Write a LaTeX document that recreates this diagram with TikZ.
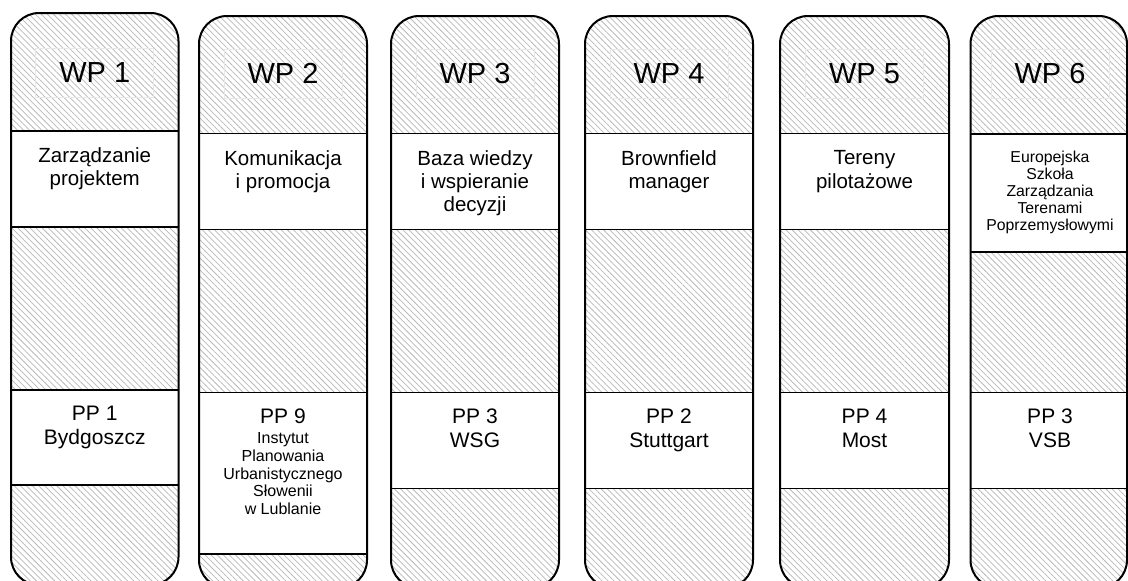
\documentclass[tikz,border=0pt]{standalone}
\usepackage{fontspec}
\setmainfont{Liberation Sans}
\usetikzlibrary{patterns.meta}
\newcommand\wpfnt{\fontsize{29}{34}\selectfont}
\newcommand\bxfnt{\fontsize{20.5}{23.2}\selectfont}
\newcommand\ppfnt{\fontsize{21}{24.5}\selectfont}
\newcommand\smafnt{\fontsize{16}{17.9}\selectfont}
\newcommand\smbfnt{\fontsize{15.8}{17.1}\selectfont}
\begin{document}
\begin{tikzpicture}[x=1pt,y=-1pt,
  hatch/.style={pattern={Lines[angle=-45,distance=4.3pt,line width=0.75pt]},pattern color=black!28},
  outline/.style={draw=black,line width=2pt,rounded corners=28pt},
  whitebox/.style={draw=black,line width=1.8pt,fill=white},
  wplabel/.style={draw=black!9,line width=0.6pt,minimum width=118pt,minimum height=49pt,inner sep=0pt,font=\wpfnt},
  boxtext/.style={anchor=north,inner sep=0pt,align=center,font=\bxfnt},
  pptext/.style={anchor=north,inner sep=0pt,align=center,font=\ppfnt},
  smalla/.style={anchor=north,inner sep=0pt,align=center,font=\smafnt},
  smallb/.style={anchor=north,inner sep=0pt,align=center,font=\smbfnt}]
\useasboundingbox (0,0) rectangle (1128,581);
\clip (0,0) rectangle (1128,581);
% ---------- column 1
\path[hatch,rounded corners=28pt] (11,13) rectangle (178.5,585);
\draw[whitebox] (11,130.7) rectangle (178.5,226.7);
\draw[whitebox] (11,390) rectangle (178.5,485);
\draw[outline] (11,13) rectangle (178.5,585);
\node[wplabel] (wp1) at (94.75,72.5) {WP 1};
\node[boxtext] (t1) at (94.75,147.5) {Zarządzanie\\projektem};
\node[pptext] (p1) at (94.75,405.5) {PP 1\\Bydgoszcz};
% ---------- column 2
\path[hatch,rounded corners=28pt] (199,16) rectangle (367,588);
\draw[whitebox] (199,133.5) rectangle (367,229.5);
\draw[whitebox] (199,392.5) rectangle (367,554);
\draw[outline] (199,16) rectangle (367,588);
\node[wplabel] (wp2) at (283,73.5) {WP 2};
\node[boxtext] (t2) at (283,150.5) {Komunikacja\\i promocja};
\node[pptext] (p2) at (283,408.5) {PP 9};
\node[smalla] (s2) at (283,432) {Instytut\\Planowania\\Urbanistycznego\\Słowenii\\w Lublanie};
% ---------- column 3
\path[hatch,rounded corners=28pt] (391,16) rectangle (559,588);
\draw[whitebox] (391,133.5) rectangle (559,229.5);
\draw[whitebox] (391,392.5) rectangle (559,488.5);
\draw[outline] (391,16) rectangle (559,588);
\node[wplabel] (wp3) at (475,73.5) {WP 3};
\node[boxtext] (t3) at (475,150.5) {Baza wiedzy\\i wspieranie\\decyzji};
\node[pptext] (p3) at (475,408.5) {PP 3\\WSG};
% ---------- column 4
\path[hatch,rounded corners=28pt] (585,16) rectangle (753,588);
\draw[whitebox] (585,133.5) rectangle (753,229.5);
\draw[whitebox] (585,392.5) rectangle (753,488.5);
\draw[outline] (585,16) rectangle (753,588);
\node[wplabel] (wp4) at (669,73.5) {WP 4};
\node[boxtext] (t4) at (669,150.5) {Brownfield\\manager};
\node[pptext] (p4) at (669,408.5) {PP 2\\Stuttgart};
% ---------- column 5
\path[hatch,rounded corners=28pt] (780,16) rectangle (949,588);
\draw[whitebox] (780,133.5) rectangle (949,229.5);
\draw[whitebox] (780,392.5) rectangle (949,488.5);
\draw[outline] (780,16) rectangle (949,588);
\node[wplabel] (wp5) at (864.5,73.5) {WP 5};
\node[boxtext] (t5) at (864.5,150.5) {Tereny\\pilotażowe};
\node[pptext] (p5) at (864.5,408.5) {PP 4\\Most};
% ---------- column 6
\path[hatch,rounded corners=28pt] (970.5,16) rectangle (1127,588);
\draw[whitebox] (970.5,134) rectangle (1127,252);
\draw[whitebox] (970.5,392.5) rectangle (1127,488.5);
\draw[outline] (970.5,16) rectangle (1127,588);
\node[wplabel] (wp6) at (1050,73.5) {WP 6};
\node[smallb] (t6) at (1050,150.5) {Europejska\\Szkoła\\Zarządzania\\Terenami\\Poprzemysłowymi};
\node[pptext] (p6) at (1050,408.5) {PP 3\\VSB};
\end{tikzpicture}
\end{document}
